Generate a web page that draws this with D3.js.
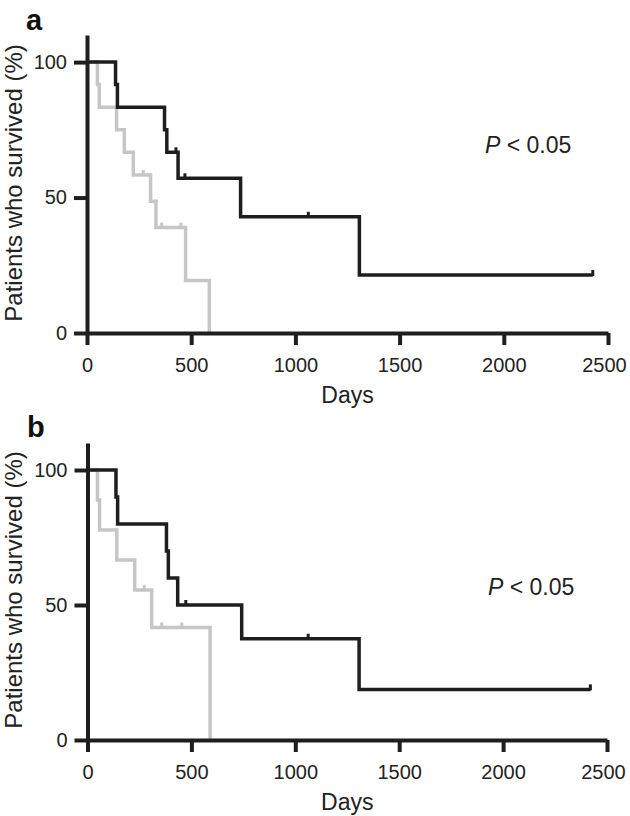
<!DOCTYPE html>
<html>
<head>
<meta charset="utf-8">
<script src="https://cdn.jsdelivr.net/npm/d3@7"></script>
<style>
  html, body { margin: 0; padding: 0; background: #fff; }
  svg { display: block; font-family: "Liberation Sans", Arial, Helvetica, sans-serif; }
</style>
</head>
<body>
<svg id="chart" width="630" height="816"></svg>
<script>
// ---- Data (days, % surviving) ----
const xTicks = [0, 500, 1000, 1500, 2000, 2500];
const yTicks = [0, 50, 100];

// Panel a
const aBlackDays = [0, 137, 146, 372, 383, 437, 737, 1307, 2427];
const aBlackSurv = [100, 91.7, 83.3, 75, 66.7, 57.1, 42.9, 21.4, 21.4];
const aBlackCensorDays = [427, 470, 1062, 2427];
const aBlackCensorSurv = [66.7, 57.1, 42.9, 21.4];

const aGrayDays = [0, 50, 59, 142, 179, 222, 305, 331, 473, 587];
const aGraySurv = [100, 91.7, 83.3, 75, 66.7, 58.3, 48.6, 38.9, 19.4, 0];
const aGrayCensorDays = [270, 358, 451];
const aGrayCensorSurv = [58.3, 38.9, 38.9];

// Panel b
const bBlackDays = [0, 137, 145, 380, 389, 434, 742, 1307, 2420];
const bBlackSurv = [100, 90, 80, 70, 60, 50, 37.5, 18.75, 18.75];
const bBlackCensorDays = [473, 1062, 2420];
const bBlackCensorSurv = [50, 37.5, 18.75];

const bGrayDays = [0, 48, 58, 141, 227, 309, 590];
const bGraySurv = [100, 88.9, 77.8, 66.7, 55.6, 41.7, 0];
const bGrayCensorDays = [273, 357, 454];
const bGrayCensorSurv = [55.6, 41.7, 41.7];

const pText = ["P", " < 0.05"];
const panelLabels = ["a", "b"];

const BLACK = "#1e1e1e";
const GRAY = "#c6c6c6";

const svg = d3.select("#chart");

const panels = [
  { x0: 87, x1: 608, yBottom: 333, yTop: 35,
    labelPos: [26, 30], pPos: [485, 153], yLabelY: 183,
    series: [
      { days: aGrayDays, surv: aGraySurv, cd: aGrayCensorDays, cs: aGrayCensorSurv, color: GRAY },
      { days: aBlackDays, surv: aBlackSurv, cd: aBlackCensorDays, cs: aBlackCensorSurv, color: BLACK }
    ] },
  { x0: 87.5, x1: 607, yBottom: 740, yTop: 443,
    labelPos: [27, 437], pPos: [488, 595], yLabelY: 590,
    series: [
      { days: bGrayDays, surv: bGraySurv, cd: bGrayCensorDays, cs: bGrayCensorSurv, color: GRAY },
      { days: bBlackDays, surv: bBlackSurv, cd: bBlackCensorDays, cs: bBlackCensorSurv, color: BLACK }
    ] }
];

panels.forEach((p, i) => {
  const x = d3.scaleLinear().domain([0, 2500]).range([p.x0, p.x1]);
  const y = d3.scaleLinear().domain([0, 110]).range([p.yBottom, p.yTop]);
  const g = svg.append("g");

  // Curves
  const line = d3.line().x(d => x(d[0])).y(d => y(d[1])).curve(d3.curveStepAfter);
  p.series.forEach(s => {
    const pts = s.days.map((d, k) => [d, s.surv[k]]);
    g.append("path").datum(pts)
      .attr("d", line)
      .attr("fill", "none")
      .attr("stroke", s.color)
      .attr("stroke-width", 3.5)
      .attr("stroke-linejoin", "miter")
      .attr("stroke-linecap", "butt");
    g.selectAll(null).data(s.cd.map((d, k) => [d, s.cs[k]])).enter()
      .append("line")
      .attr("x1", d => x(d[0])).attr("x2", d => x(d[0]))
      .attr("y1", d => y(d[1]) + 1).attr("y2", d => y(d[1]) - 5)
      .attr("stroke", s.color)
      .attr("stroke-width", 3);
  });

  // Axes
  const xAxis = d3.axisBottom(x).tickValues(xTicks).tickFormat(d3.format("d"))
    .tickSize(12).tickSizeOuter(0).tickPadding(13);
  const yAxis = d3.axisLeft(y).tickValues(yTicks).tickFormat(d3.format("d"))
    .tickSize(13).tickSizeOuter(0).tickPadding(7);

  const gx = g.append("g").attr("transform", `translate(0,${p.yBottom})`).call(xAxis);
  const gy = g.append("g").attr("transform", `translate(${p.x0},0)`).call(yAxis);
  [gx, gy].forEach(ax => {
    ax.select(".domain").attr("stroke", BLACK).attr("stroke-width", 4);
    ax.selectAll(".tick line").attr("stroke", BLACK).attr("stroke-width", 4);
    ax.selectAll(".tick text").attr("fill", "#222").style("font-size", "20px")
      .style("font-family", "'Liberation Sans', Arial, sans-serif");
  });
  // keep the last x label inside the picture, as in the reference
  gx.selectAll(".tick text").filter(d => d === 2500).attr("dx", -4);

  // Axis titles
  g.append("text")
    .attr("x", (p.x0 + p.x1) / 2).attr("y", p.yBottom + 70)
    .attr("text-anchor", "middle")
    .style("font-size", "23px").attr("fill", "#222")
    .text("Days");
  g.append("text")
    .attr("transform", `translate(22,${p.yLabelY}) rotate(-90)`)
    .attr("text-anchor", "middle")
    .style("font-size", "24px").attr("fill", "#222")
    .text("Patients who survived (%)");

  // P value
  const t = g.append("text").attr("x", p.pPos[0]).attr("y", p.pPos[1])
    .style("font-size", "23px").attr("fill", "#222");
  t.append("tspan").style("font-style", "italic").text(pText[0]);
  t.append("tspan").text(pText[1]);

  // Panel label
  g.append("text").attr("x", p.labelPos[0]).attr("y", p.labelPos[1])
    .style("font-size", "29px").style("font-weight", "bold").attr("fill", "#111")
    .text(panelLabels[i]);
});
</script>
</body>
</html>
